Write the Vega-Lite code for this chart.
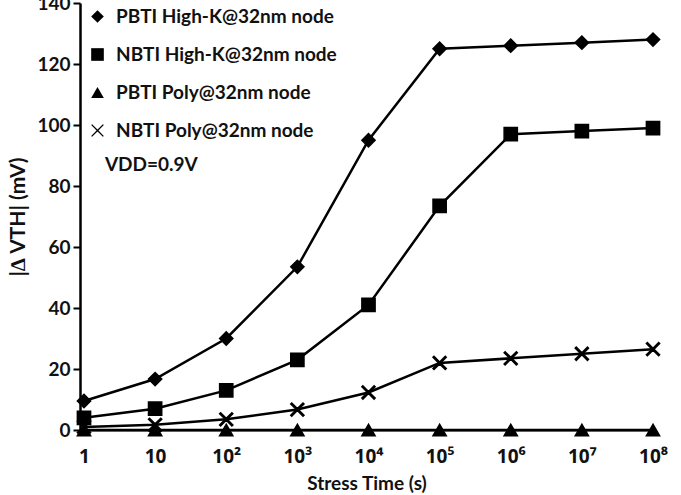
{
  "$schema": "https://vega.github.io/schema/vega-lite/v6.json",
  "width": 573,
  "height": 427,
  "autosize": {"type": "none"},
  "padding": {"left": 80, "top": 3, "right": 28, "bottom": 65},
  "background": "white",
  "config": {
    "view": {"stroke": null},
    "font": "Lato",
    "axis": {"grid": false, "labelFont": "Lato", "titleFont": "Lato", "labelColor": "#111", "titleColor": "#111"}
  },
  "data": {
    "values": [
      {"series": "PBTI High-K@32nm node", "t": 1, "v": 9.5},
      {"series": "PBTI High-K@32nm node", "t": 10, "v": 16.7},
      {"series": "PBTI High-K@32nm node", "t": 100, "v": 30},
      {"series": "PBTI High-K@32nm node", "t": 1000, "v": 53.5},
      {"series": "PBTI High-K@32nm node", "t": 10000, "v": 95},
      {"series": "PBTI High-K@32nm node", "t": 100000, "v": 125},
      {"series": "PBTI High-K@32nm node", "t": 1000000, "v": 126},
      {"series": "PBTI High-K@32nm node", "t": 10000000, "v": 127},
      {"series": "PBTI High-K@32nm node", "t": 100000000, "v": 128},
      {"series": "NBTI High-K@32nm node", "t": 1, "v": 4},
      {"series": "NBTI High-K@32nm node", "t": 10, "v": 7},
      {"series": "NBTI High-K@32nm node", "t": 100, "v": 13},
      {"series": "NBTI High-K@32nm node", "t": 1000, "v": 23},
      {"series": "NBTI High-K@32nm node", "t": 10000, "v": 41},
      {"series": "NBTI High-K@32nm node", "t": 100000, "v": 73.5},
      {"series": "NBTI High-K@32nm node", "t": 1000000, "v": 97},
      {"series": "NBTI High-K@32nm node", "t": 10000000, "v": 98},
      {"series": "NBTI High-K@32nm node", "t": 100000000, "v": 99},
      {"series": "PBTI Poly@32nm node", "t": 1, "v": 0},
      {"series": "PBTI Poly@32nm node", "t": 10, "v": 0},
      {"series": "PBTI Poly@32nm node", "t": 100, "v": 0},
      {"series": "PBTI Poly@32nm node", "t": 1000, "v": 0},
      {"series": "PBTI Poly@32nm node", "t": 10000, "v": 0},
      {"series": "PBTI Poly@32nm node", "t": 100000, "v": 0},
      {"series": "PBTI Poly@32nm node", "t": 1000000, "v": 0},
      {"series": "PBTI Poly@32nm node", "t": 10000000, "v": 0},
      {"series": "PBTI Poly@32nm node", "t": 100000000, "v": 0},
      {"series": "NBTI Poly@32nm node", "t": 1, "v": 1},
      {"series": "NBTI Poly@32nm node", "t": 10, "v": 1.7},
      {"series": "NBTI Poly@32nm node", "t": 100, "v": 3.5},
      {"series": "NBTI Poly@32nm node", "t": 1000, "v": 6.7},
      {"series": "NBTI Poly@32nm node", "t": 10000, "v": 12.3},
      {"series": "NBTI Poly@32nm node", "t": 100000, "v": 22},
      {"series": "NBTI Poly@32nm node", "t": 1000000, "v": 23.5},
      {"series": "NBTI Poly@32nm node", "t": 10000000, "v": 25},
      {"series": "NBTI Poly@32nm node", "t": 100000000, "v": 26.5}
    ]
  },
  "layer": [
    {
      "mark": {"type": "line", "color": "black", "strokeWidth": 2.5, "clip": false},
      "encoding": {
        "x": {"field": "t", "type": "quantitative", "scale": {"type": "log", "domain": [0.879, 100000000], "nice": false},
          "axis": {"values": [1, 10, 100, 1000, 10000, 100000, 1000000, 10000000, 100000000],
            "labelExpr": "['1','10','10²','10³','10⁴','10⁵','10⁶','10⁷','10⁸'][round(log(datum.value)/LN10)]",
            "labelFont": "Noto Sans",
            "ticks": false, "domain": true, "domainColor": "black", "domainWidth": 2, "labelFontSize": 19, "labelFontWeight": "bold", "labelPadding": 17,
            "title": "Stress Time (s)", "titleFontSize": 19, "titleFontWeight": "bold", "titlePadding": 8, "labelFlush": false}},
        "y": {"field": "v", "type": "quantitative", "scale": {"domain": [0, 140], "nice": false},
          "axis": {"values": [0, 20, 40, 60, 80, 100, 120, 140], "domainColor": "black", "domainWidth": 2.5, "tickColor": "black", "tickWidth": 2, "tickSize": 7,
            "labelFontSize": 19, "labelFontWeight": "bold", "labelPadding": 3,
            "title": "|∆ VTH| (mV)", "titleFontSize": 21, "titleFontWeight": "bold", "titlePadding": 8}},
        "detail": {"field": "series"}
      }
    },
    {
      "mark": {"type": "point", "filled": true, "fill": "black", "stroke": "black", "strokeWidth": 1.5, "opacity": 1, "size": 175, "clip": false},
      "encoding": {
        "x": {"field": "t", "type": "quantitative"},
        "y": {"field": "v", "type": "quantitative"},
        "shape": {"field": "series", "type": "nominal",
          "scale": {"domain": ["PBTI High-K@32nm node", "NBTI High-K@32nm node", "PBTI Poly@32nm node", "NBTI Poly@32nm node"],
            "range": ["diamond", "square", "triangle-up", "M-1,-0.85L-0.85,-1L0,-0.15L0.85,-1L1,-0.85L0.15,0L1,0.85L0.85,1L0,0.15L-0.85,1L-1,0.85L-0.15,0Z"]},
          "legend": {"orient": "none", "legendX": 8, "legendY": 4, "title": null, "labelFontSize": 19, "labelFontWeight": "bold", "labelColor": "#111", "labelLimit": 0,
            "symbolFillColor": "black", "symbolStrokeColor": "black", "symbolStrokeWidth": 1.5, "symbolSize": 160, "rowPadding": 18, "labelOffset": 9, "symbolOpacity": 1}}
      }
    },
    {
      "data": {"values": [{"label": "VDD=0.9V"}]},
      "mark": {"type": "text", "align": "left", "baseline": "middle", "fontSize": 19, "fontWeight": "bold", "fill": "#111"},
      "encoding": {"x": {"datum": 1.97}, "y": {"datum": 87}, "text": {"field": "label"}}
    }
  ]
}
